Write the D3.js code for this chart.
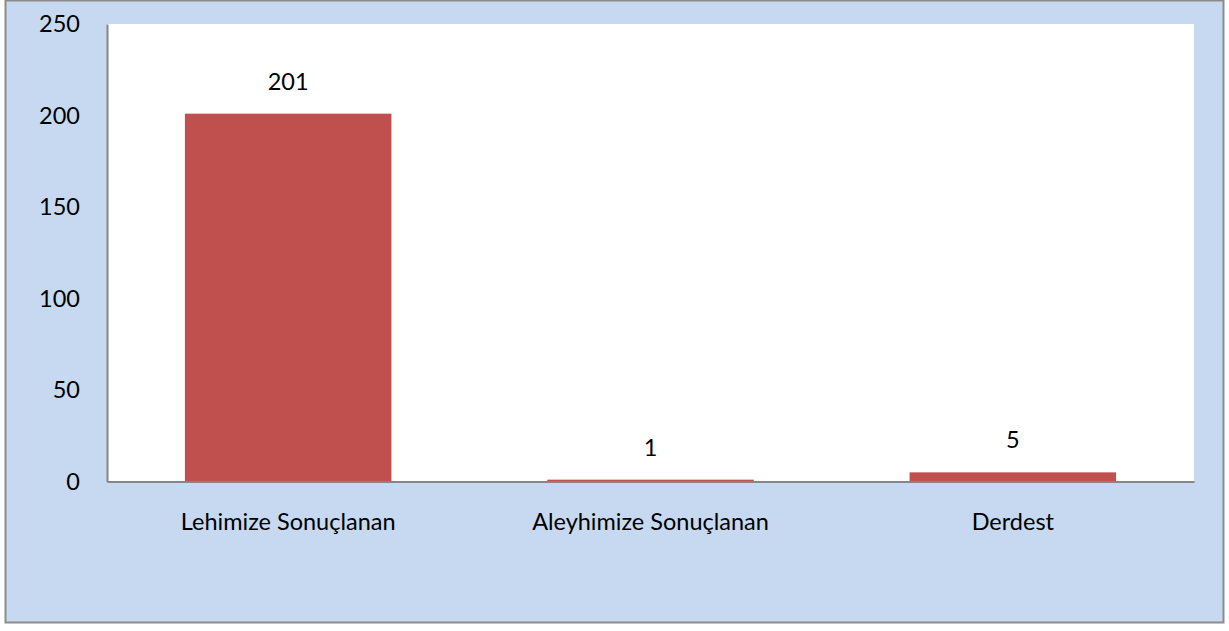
<!DOCTYPE html>
<html><head><meta charset="utf-8">
<script src="https://cdn.jsdelivr.net/npm/d3@7/dist/d3.min.js"></script>
<style>html,body{margin:0;padding:0;background:#fff;}svg{display:block;}</style>
</head><body>
<script>
const categories = ["Lehimize Sonuçlanan", "Aleyhimize Sonuçlanan", "Derdest"];
const values = [201, 1, 5];
const yTicks = [0, 50, 100, 150, 200, 250];

const W = 1229, H = 631;
const m = {left: 107, right: 1194, top: 24, bottom: 481.5};
const font = "Lato, 'Noto Sans', sans-serif";
const fs = 23.5;

const svg = d3.select("body").append("svg").attr("width", W).attr("height", H);

svg.append("rect").attr("x", 5.5).attr("y", 0.5).attr("width", 1218).attr("height", 622)
  .attr("fill", "#c6d9f0").attr("stroke", "#8c8c8c").attr("stroke-width", 2);

svg.append("rect").attr("x", m.left).attr("y", m.top)
  .attr("width", m.right - m.left).attr("height", m.bottom - m.top).attr("fill", "#fff");

const x = d3.scaleBand().domain(categories).range([m.left, m.right]).paddingInner(0.43).paddingOuter(0.215);
const y = d3.scaleLinear().domain([0, 250]).range([m.bottom, m.top]);

svg.selectAll("rect.bar").data(values).enter().append("rect").attr("class", "bar")
  .attr("x", (d, i) => x(categories[i])).attr("width", x.bandwidth())
  .attr("y", d => y(d)).attr("height", d => y(0) - y(d)).attr("fill", "#c0504d");

svg.selectAll("text.val").data(values).enter().append("text").attr("class", "val")
  .attr("x", (d, i) => x(categories[i]) + x.bandwidth() / 2)
  .attr("y", d => y(d) - 24)
  .attr("text-anchor", "middle").attr("font-family", font).attr("font-size", fs).attr("fill", "#000")
  .text(d => d);

const yAxis = d3.axisLeft(y).tickValues(yTicks).tickSize(0).tickPadding(27);
const gy = svg.append("g").attr("transform", `translate(${m.left},0)`).call(yAxis);
gy.select(".domain").attr("stroke", "#868686").attr("stroke-width", 2);
gy.selectAll("text").attr("font-family", font).attr("font-size", fs).attr("fill", "#000");

const xAxis = d3.axisBottom(x).tickSize(0).tickPadding(32);
const gx = svg.append("g").attr("transform", `translate(0,${m.bottom})`).call(xAxis);
gx.select(".domain").attr("stroke", "#868686").attr("stroke-width", 2);
gx.selectAll("text").attr("font-family", font).attr("font-size", fs).attr("fill", "#000");
</script>
</body></html>
